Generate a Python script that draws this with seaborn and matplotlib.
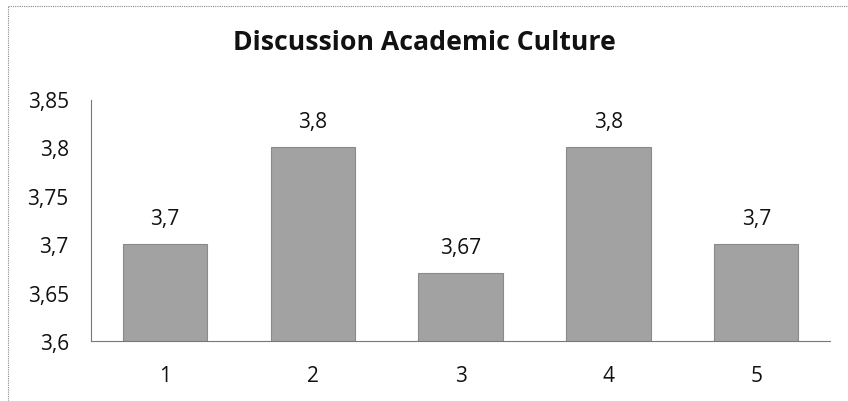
import matplotlib
matplotlib.use("Agg")
import matplotlib.pyplot as plt
import seaborn as sns
import pandas as pd
from matplotlib.lines import Line2D

categories = ["1", "2", "3", "4", "5"]
values = [3.7, 3.8, 3.67, 3.8, 3.7]
value_labels = ["3,7", "3,8", "3,67", "3,8", "3,7"]
y_ticks = [3.6, 3.65, 3.7, 3.75, 3.8, 3.85]
y_tick_labels = ["3,6", "3,65", "3,7", "3,75", "3,8", "3,85"]
title = "Discussion Academic Culture"

sns.set_theme(style="white")
plt.rcParams["font.family"] = ["Open Sans", "DejaVu Sans"]

df = pd.DataFrame({"cat": categories, "val": values})

fig = plt.figure(figsize=(8.48, 4.02), dpi=100)
ax = fig.add_axes([0.1073, 0.149, 0.979 - 0.1073, 0.751 - 0.149])

sns.barplot(data=df, x="cat", y="val", color="#a2a2a2", saturation=1,
            width=0.57, edgecolor="#8a8a8a", linewidth=0.8, ax=ax)

ax.set_ylim(3.6, 3.85)
ax.set_xlim(-0.5, 4.5)
ax.set_yticks(y_ticks)
ax.set_yticklabels(y_tick_labels, fontsize=15, color="#111111")
ax.set_xticks(range(len(categories)))
ax.set_xticklabels(categories, fontsize=15, color="#111111")
ax.set_xlabel("")
ax.set_ylabel("")
ax.tick_params(axis="y", length=0, pad=16)
ax.tick_params(axis="x", length=0, pad=17)

for s in ["top", "right"]:
    ax.spines[s].set_visible(False)
for s in ["left", "bottom"]:
    ax.spines[s].set_linestyle((0, (1, 1)))
    ax.spines[s].set_color("#777777")
    ax.spines[s].set_linewidth(0.8)

for patch, lab in zip(ax.patches, value_labels):
    ax.annotate(lab, (patch.get_x() + patch.get_width() / 2, patch.get_height() + patch.get_y()),
                xytext=(0, 11), textcoords="offset points", ha="center", va="bottom",
                fontsize=15, color="#111111")

fig.text(0.5, 0.893, title, ha="center", va="center", fontsize=19.2,
         fontweight="bold", color="#111111")

# dotted frame along top and left edges
fig.add_artist(Line2D([8 / 848, 1], [1 - 7 / 402, 1 - 7 / 402], transform=fig.transFigure,
                      color="#888888", linestyle=(0, (1, 1)), linewidth=0.8))
fig.add_artist(Line2D([8 / 848, 8 / 848], [0, 1 - 7 / 402], transform=fig.transFigure,
                      color="#888888", linestyle=(0, (1, 1)), linewidth=0.8))

fig.savefig("out.png", dpi=100, facecolor="white")
